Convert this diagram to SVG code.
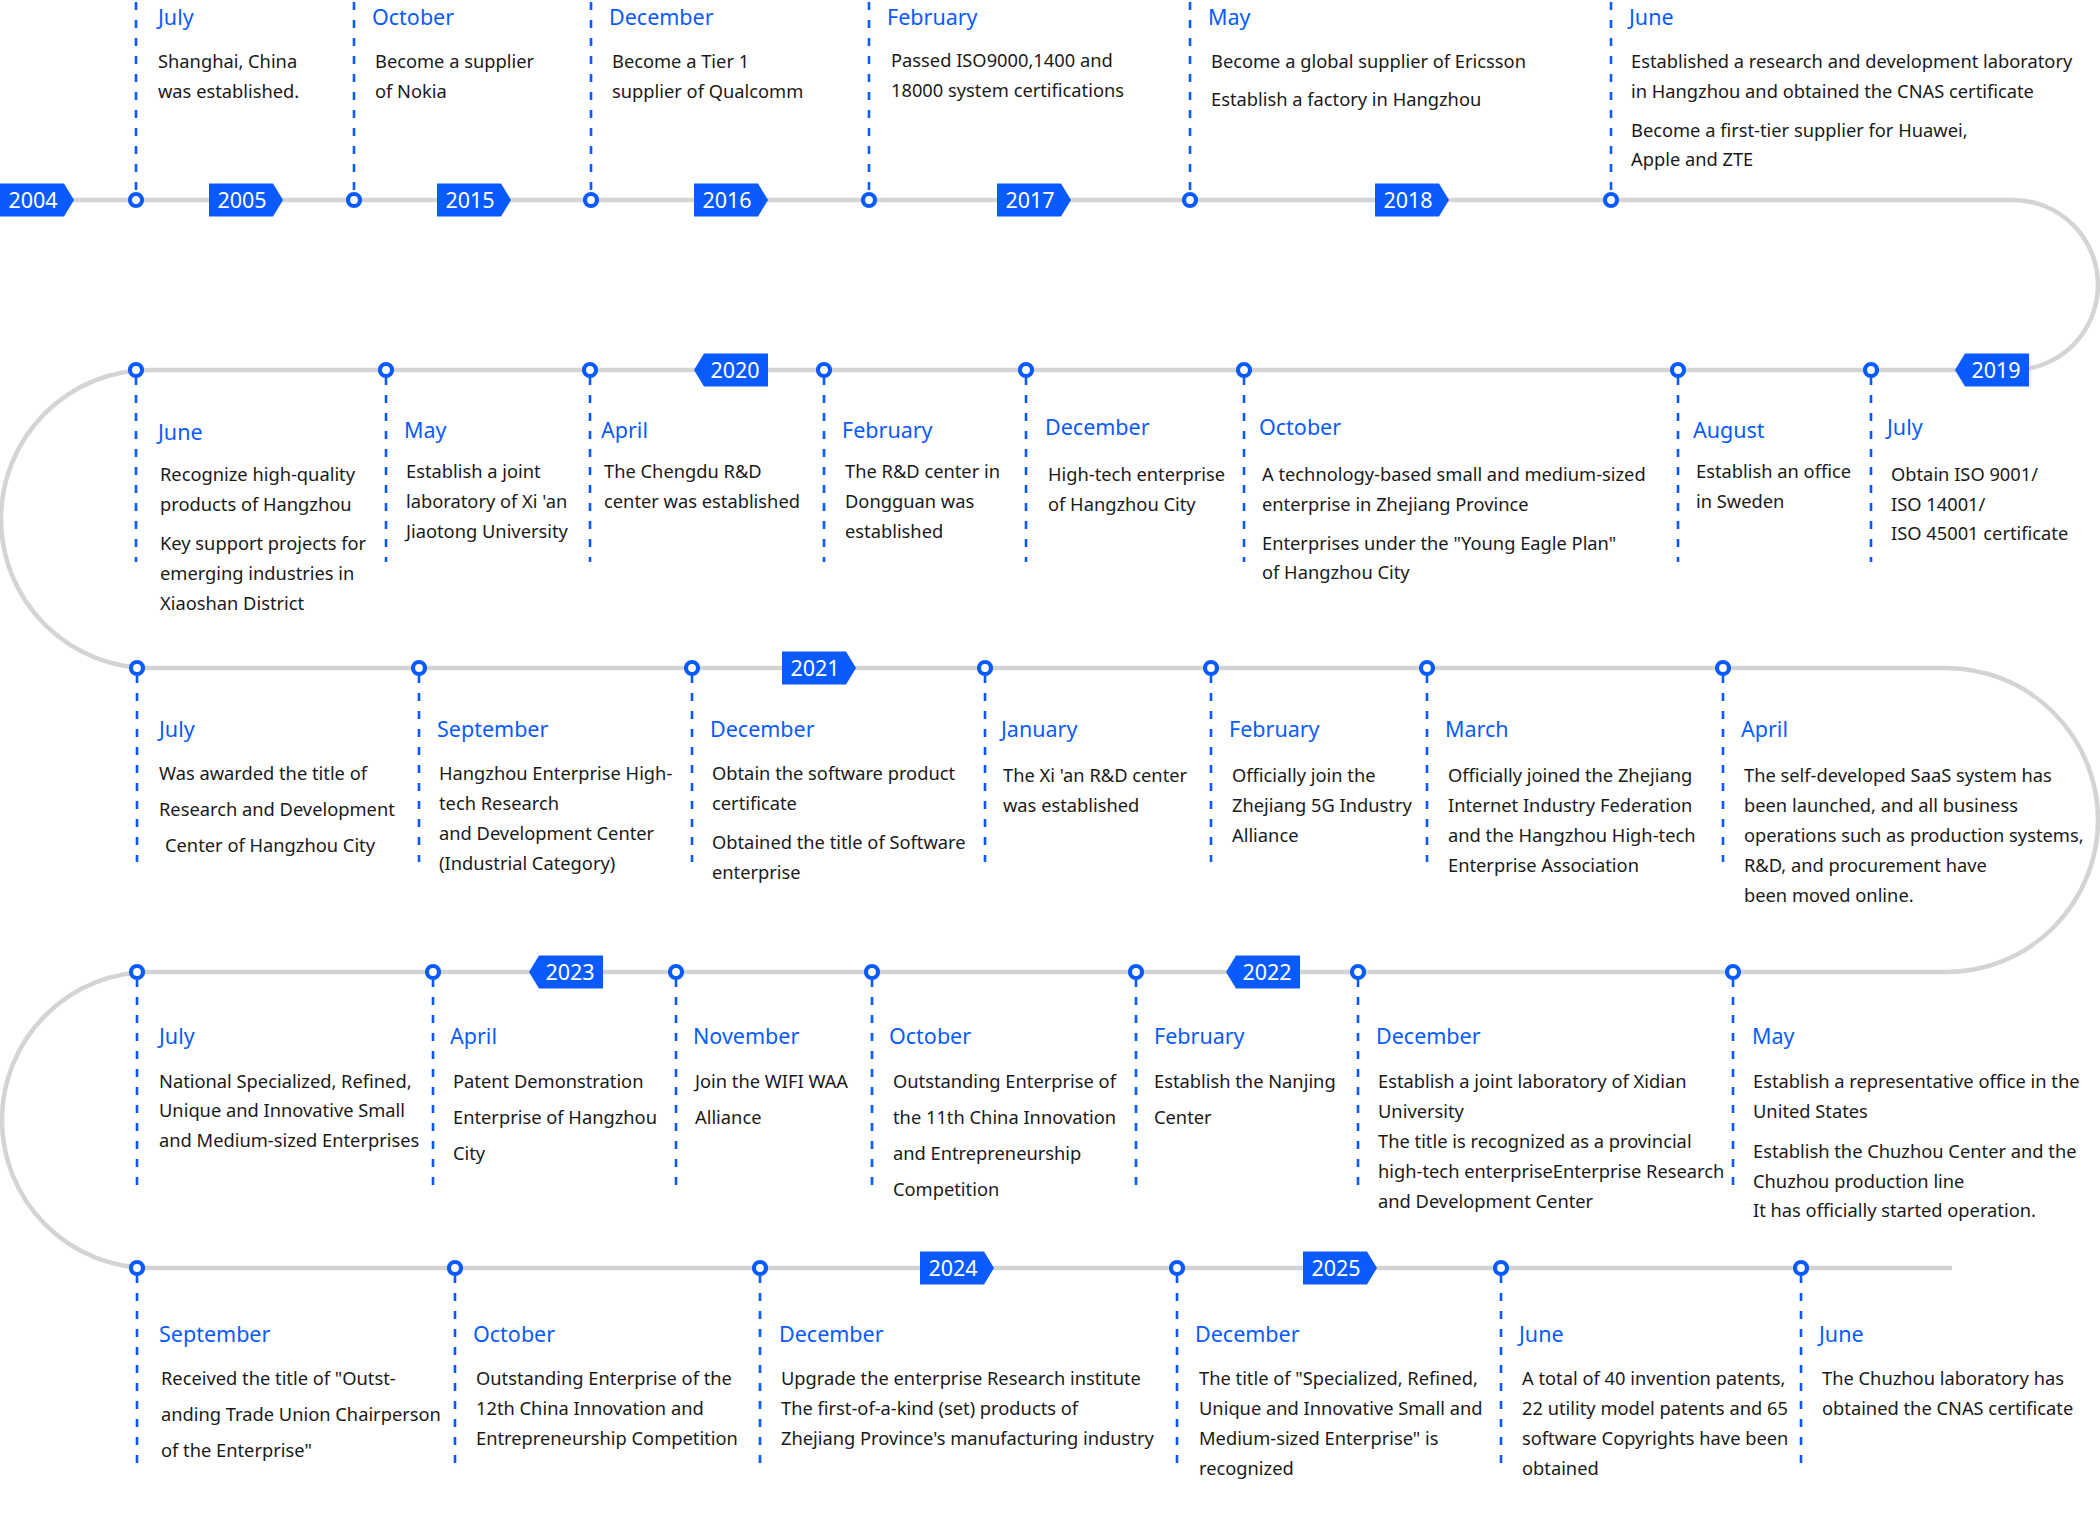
<svg xmlns="http://www.w3.org/2000/svg" xmlns:xlink="http://www.w3.org/1999/xlink" width="2100" height="1517" viewBox="0 0 2100 1517">
<style>
.m{font-family:"Noto Sans","Open Sans",sans-serif;font-size:21.5px;fill:#0a5bff}
.b{font-family:"Noto Sans","Open Sans",sans-serif;font-size:18.3px;fill:#1a1a1a}
.yt{font-family:"Noto Sans","Open Sans",sans-serif;font-size:21.5px;fill:#fff;text-anchor:middle}
.yb{fill:#0a5bff}
.d{stroke:#0a5bff;stroke-width:2.6;stroke-dasharray:8 10;fill:none}
.c{fill:#fff;stroke:#0a5bff;stroke-width:4.2}
.tl{fill:none;stroke:#d4d4d4;stroke-width:4.5}
</style>
<defs>
<path id="yr" d="M0 -16.5 H64 L74 0 L64 16.5 H0 Z"/>
<path id="yl" d="M0 0 L10 -16.5 H74 V16.5 H10 Z"/>
</defs>
<rect width="2100" height="1517" fill="#fff"/>
<g id="connectors">
<path class="tl" d="M0 200 H2013 A85 85 0 0 1 2013 370 H150 A149 149 0 0 0 150 668 H1946 A152 152 0 0 1 1946 972 H150 A148 148 0 0 0 150 1268 H1952"/>
</g>
<g id="years">
<g id="y2004"><use href="#yr" x="0" y="200" class="yb"/><text class="yt" x="33" y="208">2004</text></g>
<g id="y2005"><use href="#yr" x="209" y="200" class="yb"/><text class="yt" x="242" y="208">2005</text></g>
<g id="y2015"><use href="#yr" x="437" y="200" class="yb"/><text class="yt" x="470" y="208">2015</text></g>
<g id="y2016"><use href="#yr" x="694" y="200" class="yb"/><text class="yt" x="727" y="208">2016</text></g>
<g id="y2017"><use href="#yr" x="997" y="200" class="yb"/><text class="yt" x="1030" y="208">2017</text></g>
<g id="y2018"><use href="#yr" x="1375" y="200" class="yb"/><text class="yt" x="1408" y="208">2018</text></g>
<g id="y2020"><use href="#yl" x="694" y="370" class="yb"/><text class="yt" x="735" y="378">2020</text></g>
<g id="y2019"><use href="#yl" x="1955" y="370" class="yb"/><text class="yt" x="1996" y="378">2019</text></g>
<g id="y2021"><use href="#yr" x="782" y="668" class="yb"/><text class="yt" x="815" y="676">2021</text></g>
<g id="y2023"><use href="#yl" x="529" y="972" class="yb"/><text class="yt" x="570" y="980">2023</text></g>
<g id="y2022"><use href="#yl" x="1226" y="972" class="yb"/><text class="yt" x="1267" y="980">2022</text></g>
<g id="y2024"><use href="#yr" x="920" y="1268" class="yb"/><text class="yt" x="953" y="1276">2024</text></g>
<g id="y2025"><use href="#yr" x="1303" y="1268" class="yb"/><text class="yt" x="1336" y="1276">2025</text></g>
</g>

<g id="n1"><line class="d" x1="136" y1="2" x2="136" y2="194"/><circle class="c" cx="136" cy="200" r="6"/><text class="m" x="158" y="25">July</text><text class="b" x="158" y="68">Shanghai, China</text><text class="b" x="158" y="98">was established.</text></g>
<g id="n2"><line class="d" x1="354" y1="2" x2="354" y2="194"/><circle class="c" cx="354" cy="200" r="6"/><text class="m" x="372" y="25">October</text><text class="b" x="375" y="68">Become a supplier</text><text class="b" x="375" y="98">of Nokia</text></g>
<g id="n3"><line class="d" x1="591" y1="2" x2="591" y2="194"/><circle class="c" cx="591" cy="200" r="6"/><text class="m" x="609" y="25">December</text><text class="b" x="612" y="68">Become a Tier 1</text><text class="b" x="612" y="98">supplier of Qualcomm</text></g>
<g id="n4"><line class="d" x1="869" y1="2" x2="869" y2="194"/><circle class="c" cx="869" cy="200" r="6"/><text class="m" x="887" y="25">February</text><text class="b" x="891" y="67">Passed ISO9000,1400 and</text><text class="b" x="891" y="97">18000 system certifications</text></g>
<g id="n5"><line class="d" x1="1190" y1="2" x2="1190" y2="194"/><circle class="c" cx="1190" cy="200" r="6"/><text class="m" x="1208" y="25">May</text><text class="b" x="1211" y="68">Become a global supplier of Ericsson</text><text class="b" x="1211" y="106">Establish a factory in Hangzhou</text></g>
<g id="n6"><line class="d" x1="1611" y1="2" x2="1611" y2="194"/><circle class="c" cx="1611" cy="200" r="6"/><text class="m" x="1629" y="25">June</text><text class="b" x="1631" y="68">Established a research and development laboratory</text><text class="b" x="1631" y="98">in Hangzhou and obtained the CNAS certificate</text><text class="b" x="1631" y="137">Become a first-tier supplier for Huawei,</text><text class="b" x="1631" y="166">Apple and ZTE</text></g>

<g id="n7"><line class="d" x1="136" y1="377" x2="136" y2="562"/><circle class="c" cx="136" cy="370" r="6"/><text class="m" x="158" y="440">June</text><text class="b" x="160" y="481">Recognize high-quality</text><text class="b" x="160" y="511">products of Hangzhou</text><text class="b" x="160" y="550">Key support projects for</text><text class="b" x="160" y="580">emerging industries in</text><text class="b" x="160" y="610">Xiaoshan District</text></g>
<g id="n8"><line class="d" x1="386" y1="377" x2="386" y2="562"/><circle class="c" cx="386" cy="370" r="6"/><text class="m" x="404" y="438">May</text><text class="b" x="406" y="478">Establish a joint</text><text class="b" x="406" y="508">laboratory of Xi 'an</text><text class="b" x="406" y="538">Jiaotong University</text></g>
<g id="n9"><line class="d" x1="590" y1="377" x2="590" y2="562"/><circle class="c" cx="590" cy="370" r="6"/><text class="m" x="601" y="438">April</text><text class="b" x="604" y="478">The Chengdu R&amp;D</text><text class="b" x="604" y="508">center was established</text></g>
<g id="n10"><line class="d" x1="824" y1="377" x2="824" y2="562"/><circle class="c" cx="824" cy="370" r="6"/><text class="m" x="842" y="438">February</text><text class="b" x="845" y="478">The R&amp;D center in</text><text class="b" x="845" y="508">Dongguan was</text><text class="b" x="845" y="538">established</text></g>
<g id="n11"><line class="d" x1="1026" y1="377" x2="1026" y2="562"/><circle class="c" cx="1026" cy="370" r="6"/><text class="m" x="1045" y="435">December</text><text class="b" x="1048" y="481">High-tech enterprise</text><text class="b" x="1048" y="511">of Hangzhou City</text></g>
<g id="n12"><line class="d" x1="1244" y1="377" x2="1244" y2="562"/><circle class="c" cx="1244" cy="370" r="6"/><text class="m" x="1259" y="435">October</text><text class="b" x="1262" y="481">A technology-based small and medium-sized</text><text class="b" x="1262" y="511">enterprise in Zhejiang Province</text><text class="b" x="1262" y="550">Enterprises under the "Young Eagle Plan"</text><text class="b" x="1262" y="579">of Hangzhou City</text></g>
<g id="n13"><line class="d" x1="1678" y1="377" x2="1678" y2="562"/><circle class="c" cx="1678" cy="370" r="6"/><text class="m" x="1693" y="438">August</text><text class="b" x="1696" y="478">Establish an office</text><text class="b" x="1696" y="508">in Sweden</text></g>
<g id="n14"><line class="d" x1="1871" y1="377" x2="1871" y2="562"/><circle class="c" cx="1871" cy="370" r="6"/><text class="m" x="1887" y="435">July</text><text class="b" x="1891" y="481">Obtain ISO 9001/</text><text class="b" x="1891" y="511">ISO 14001/</text><text class="b" x="1891" y="540">ISO 45001 certificate</text></g>

<g id="n15"><line class="d" x1="137" y1="675" x2="137" y2="862"/><circle class="c" cx="137" cy="668" r="6"/><text class="m" x="159" y="737">July</text><text class="b" x="159" y="780">Was awarded the title of</text><text class="b" x="159" y="816">Research and Development</text><text class="b" x="165" y="852">Center of Hangzhou City</text></g>
<g id="n16"><line class="d" x1="419" y1="675" x2="419" y2="862"/><circle class="c" cx="419" cy="668" r="6"/><text class="m" x="437" y="737">September</text><text class="b" x="439" y="780">Hangzhou Enterprise High-</text><text class="b" x="439" y="810">tech Research</text><text class="b" x="439" y="840">and Development Center</text><text class="b" x="439" y="870">(Industrial Category)</text></g>
<g id="n17"><line class="d" x1="692" y1="675" x2="692" y2="862"/><circle class="c" cx="692" cy="668" r="6"/><text class="m" x="710" y="737">December</text><text class="b" x="712" y="780">Obtain the software product</text><text class="b" x="712" y="810">certificate</text><text class="b" x="712" y="849">Obtained the title of Software</text><text class="b" x="712" y="879">enterprise</text></g>
<g id="n18"><line class="d" x1="985" y1="675" x2="985" y2="862"/><circle class="c" cx="985" cy="668" r="6"/><text class="m" x="1001" y="737">January</text><text class="b" x="1003" y="782">The Xi 'an R&amp;D center</text><text class="b" x="1003" y="812">was established</text></g>
<g id="n19"><line class="d" x1="1211" y1="675" x2="1211" y2="862"/><circle class="c" cx="1211" cy="668" r="6"/><text class="m" x="1229" y="737">February</text><text class="b" x="1232" y="782">Officially join the</text><text class="b" x="1232" y="812">Zhejiang 5G Industry</text><text class="b" x="1232" y="842">Alliance</text></g>
<g id="n20"><line class="d" x1="1427" y1="675" x2="1427" y2="862"/><circle class="c" cx="1427" cy="668" r="6"/><text class="m" x="1445" y="737">March</text><text class="b" x="1448" y="782">Officially joined the Zhejiang</text><text class="b" x="1448" y="812">Internet Industry Federation</text><text class="b" x="1448" y="842">and the Hangzhou High-tech</text><text class="b" x="1448" y="872">Enterprise Association</text></g>
<g id="n21"><line class="d" x1="1723" y1="675" x2="1723" y2="862"/><circle class="c" cx="1723" cy="668" r="6"/><text class="m" x="1741" y="737">April</text><text class="b" x="1744" y="782">The self-developed SaaS system has</text><text class="b" x="1744" y="812">been launched, and all business</text><text class="b" x="1744" y="842">operations such as production systems,</text><text class="b" x="1744" y="872">R&amp;D, and procurement have</text><text class="b" x="1744" y="902">been moved online.</text></g>

<g id="n22"><line class="d" x1="137" y1="979" x2="137" y2="1192"/><circle class="c" cx="137" cy="972" r="6"/><text class="m" x="159" y="1044">July</text><text class="b" x="159" y="1088">National Specialized, Refined,</text><text class="b" x="159" y="1117">Unique and Innovative Small</text><text class="b" x="159" y="1147">and Medium-sized Enterprises</text></g>
<g id="n23"><line class="d" x1="433" y1="979" x2="433" y2="1192"/><circle class="c" cx="433" cy="972" r="6"/><text class="m" x="450" y="1044">April</text><text class="b" x="453" y="1088">Patent Demonstration</text><text class="b" x="453" y="1124">Enterprise of Hangzhou</text><text class="b" x="453" y="1160">City</text></g>
<g id="n24"><line class="d" x1="676" y1="979" x2="676" y2="1192"/><circle class="c" cx="676" cy="972" r="6"/><text class="m" x="693" y="1044">November</text><text class="b" x="695" y="1088">Join the WIFI WAA</text><text class="b" x="695" y="1124">Alliance</text></g>
<g id="n25"><line class="d" x1="872" y1="979" x2="872" y2="1192"/><circle class="c" cx="872" cy="972" r="6"/><text class="m" x="889" y="1044">October</text><text class="b" x="893" y="1088">Outstanding Enterprise of</text><text class="b" x="893" y="1124">the 11th China Innovation</text><text class="b" x="893" y="1160">and Entrepreneurship</text><text class="b" x="893" y="1196">Competition</text></g>
<g id="n26"><line class="d" x1="1136" y1="979" x2="1136" y2="1192"/><circle class="c" cx="1136" cy="972" r="6"/><text class="m" x="1154" y="1044">February</text><text class="b" x="1154" y="1088">Establish the Nanjing</text><text class="b" x="1154" y="1124">Center</text></g>
<g id="n27"><line class="d" x1="1358" y1="979" x2="1358" y2="1192"/><circle class="c" cx="1358" cy="972" r="6"/><text class="m" x="1376" y="1044">December</text><text class="b" x="1378" y="1088">Establish a joint laboratory of Xidian</text><text class="b" x="1378" y="1118">University</text><text class="b" x="1378" y="1148">The title is recognized as a provincial</text><text class="b" x="1378" y="1178">high-tech enterpriseEnterprise Research</text><text class="b" x="1378" y="1208">and Development Center</text></g>
<g id="n28"><line class="d" x1="1733" y1="979" x2="1733" y2="1192"/><circle class="c" cx="1733" cy="972" r="6"/><text class="m" x="1752" y="1044">May</text><text class="b" x="1753" y="1088">Establish a representative office in the</text><text class="b" x="1753" y="1118">United States</text><text class="b" x="1753" y="1158">Establish the Chuzhou Center and the</text><text class="b" x="1753" y="1188">Chuzhou production line</text><text class="b" x="1753" y="1217">It has officially started operation.</text></g>

<g id="n29"><line class="d" x1="137" y1="1275" x2="137" y2="1463"/><circle class="c" cx="137" cy="1268" r="6"/><text class="m" x="159" y="1342">September</text><text class="b" x="161" y="1385">Received the title of "Outst-</text><text class="b" x="161" y="1421">anding Trade Union Chairperson</text><text class="b" x="161" y="1457">of the Enterprise"</text></g>
<g id="n30"><line class="d" x1="455" y1="1275" x2="455" y2="1463"/><circle class="c" cx="455" cy="1268" r="6"/><text class="m" x="473" y="1342">October</text><text class="b" x="476" y="1385">Outstanding Enterprise of the</text><text class="b" x="476" y="1415">12th China Innovation and</text><text class="b" x="476" y="1445">Entrepreneurship Competition</text></g>
<g id="n31"><line class="d" x1="760" y1="1275" x2="760" y2="1463"/><circle class="c" cx="760" cy="1268" r="6"/><text class="m" x="779" y="1342">December</text><text class="b" x="781" y="1385">Upgrade the enterprise Research institute</text><text class="b" x="781" y="1415">The first-of-a-kind (set) products of</text><text class="b" x="781" y="1445">Zhejiang Province's manufacturing industry</text></g>
<g id="n32"><line class="d" x1="1177" y1="1275" x2="1177" y2="1463"/><circle class="c" cx="1177" cy="1268" r="6"/><text class="m" x="1195" y="1342">December</text><text class="b" x="1199" y="1385">The title of "Specialized, Refined,</text><text class="b" x="1199" y="1415">Unique and Innovative Small and</text><text class="b" x="1199" y="1445">Medium-sized Enterprise" is</text><text class="b" x="1199" y="1475">recognized</text></g>
<g id="n33"><line class="d" x1="1501" y1="1275" x2="1501" y2="1463"/><circle class="c" cx="1501" cy="1268" r="6"/><text class="m" x="1519" y="1342">June</text><text class="b" x="1522" y="1385">A total of 40 invention patents,</text><text class="b" x="1522" y="1415">22 utility model patents and 65</text><text class="b" x="1522" y="1445">software Copyrights have been</text><text class="b" x="1522" y="1475">obtained</text></g>
<g id="n34"><line class="d" x1="1801" y1="1275" x2="1801" y2="1463"/><circle class="c" cx="1801" cy="1268" r="6"/><text class="m" x="1819" y="1342">June</text><text class="b" x="1822" y="1385">The Chuzhou laboratory has</text><text class="b" x="1822" y="1415">obtained the CNAS certificate</text></g>
</svg>
